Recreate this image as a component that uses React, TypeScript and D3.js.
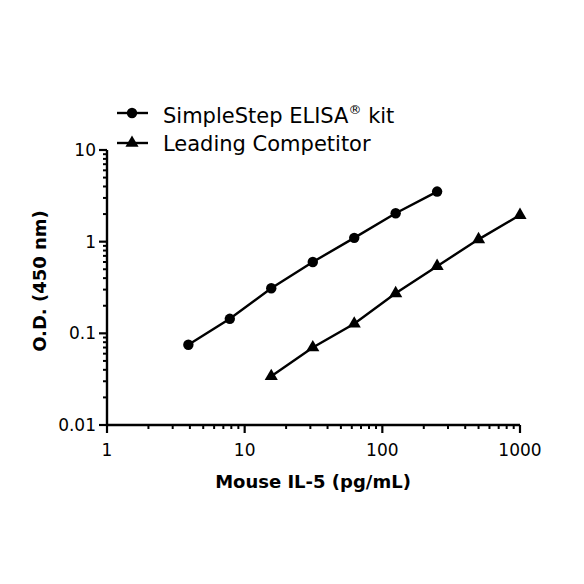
import React from "react";
import * as d3 from "d3";

const simpleConc = [3.9, 7.8, 15.6, 31.25, 62.5, 125, 250];
const simpleOD = [0.075, 0.144, 0.31, 0.6, 1.1, 2.04, 3.52];
const compConc = [15.6, 31.25, 62.5, 125, 250, 500, 1000];
const compOD = [0.034, 0.07, 0.127, 0.273, 0.54, 1.06, 1.95];
const xTicks = [1, 10, 100, 1000];
const yTicks = [0.01, 0.1, 1, 10];
const yTickLabels = ["0.01", "0.1", "1", "10"];
const legendLabels = ["SimpleStep ELISA", "Leading Competitor"];

const FONT = "'DejaVu Sans', sans-serif";

export default function App() {
  const x = d3.scaleLog().domain([1, 1000]).range([107, 520]);
  const y = d3.scaleLog().domain([0.01, 10]).range([425, 150]);
  const line = d3
    .line<[number, number]>()
    .x((d) => x(d[0]))
    .y((d) => y(d[1]));
  const s1 = simpleConc.map((c, i) => [c, simpleOD[i]] as [number, number]);
  const s2 = compConc.map((c, i) => [c, compOD[i]] as [number, number]);
  const tri = d3.symbol().type(d3.symbolTriangle).size(75)();

  const xMinor: number[] = [];
  for (let dec = 1; dec < 1000; dec *= 10)
    for (let k = 2; k <= 9; k++) xMinor.push(dec * k);
  const yMinor: number[] = [];
  for (let dec = 0.01; dec < 9; dec *= 10)
    for (let k = 2; k <= 9; k++) yMinor.push(dec * k);

  return (
    <svg width={584} height={584} style={{ display: "block", position: "absolute", left: 0, top: 0 }}>
      <rect width={584} height={584} fill="#fff" />
      {/* axes */}
      <line x1={107} x2={107} y1={y(10)} y2={y(0.01)} stroke="#000" strokeWidth={2.4} />
      <line x1={107} x2={x(1000)} y1={425} y2={425} stroke="#000" strokeWidth={2.4} />
      {yTicks.map((t) => (
        <line key={"ym" + t} x1={99} x2={107} y1={y(t)} y2={y(t)} stroke="#000" strokeWidth={2.2} />
      ))}
      {yMinor.map((t, i) => (
        <line key={"yn" + i} x1={103} x2={107} y1={y(t)} y2={y(t)} stroke="#000" strokeWidth={2} />
      ))}
      {xTicks.map((t) => (
        <line key={"xm" + t} x1={x(t)} x2={x(t)} y1={425} y2={433} stroke="#000" strokeWidth={2.2} />
      ))}
      {xMinor.map((t, i) => (
        <line key={"xn" + i} x1={x(t)} x2={x(t)} y1={425} y2={429} stroke="#000" strokeWidth={2} />
      ))}
      {yTicks.map((t, i) => (
        <text key={"yl" + t} x={96} y={y(t)} dy="0.36em" textAnchor="end" fontFamily={FONT} fontSize={17} fill="#000">
          {yTickLabels[i]}
        </text>
      ))}
      {xTicks.map((t) => (
        <text key={"xl" + t} x={x(t)} y={456} textAnchor="middle" fontFamily={FONT} fontSize={17} fill="#000">
          {t}
        </text>
      ))}
      <text x={313} y={488} textAnchor="middle" fontFamily={FONT} fontWeight="bold" fontSize={18} fill="#000">
        Mouse IL-5 (pg/mL)
      </text>
      <text transform="translate(46,281) rotate(-90)" textAnchor="middle" fontFamily={FONT} fontWeight="bold" fontSize={18} fill="#000">
        O.D. (450 nm)
      </text>
      {/* series */}
      <path d={line(s1) || ""} fill="none" stroke="#000" strokeWidth={2.4} />
      <path d={line(s2) || ""} fill="none" stroke="#000" strokeWidth={2.4} />
      {s1.map((d, i) => (
        <circle key={"c" + i} cx={x(d[0])} cy={y(d[1])} r={5.2} fill="#000" />
      ))}
      {s2.map((d, i) => (
        <path key={"t" + i} d={tri || ""} transform={`translate(${x(d[0])},${y(d[1])})`} fill="#000" />
      ))}
      {/* legend */}
      <line x1={117} x2={148} y1={113} y2={113} stroke="#000" strokeWidth={2.4} />
      <circle cx={132} cy={113} r={5.2} fill="#000" />
      <text x={163} y={123} fontFamily={FONT} fontSize={21} fill="#000">
        {legendLabels[0]}
        <tspan fontSize={13} dy={-9}>®</tspan>
        <tspan dy={9}> kit</tspan>
      </text>
      <line x1={117} x2={148} y1={143} y2={143} stroke="#000" strokeWidth={2.4} />
      <path d={tri || ""} transform="translate(132,143)" fill="#000" />
      <text x={163} y={151} fontFamily={FONT} fontSize={21} fill="#000">
        {legendLabels[1]}
      </text>
    </svg>
  );
}
